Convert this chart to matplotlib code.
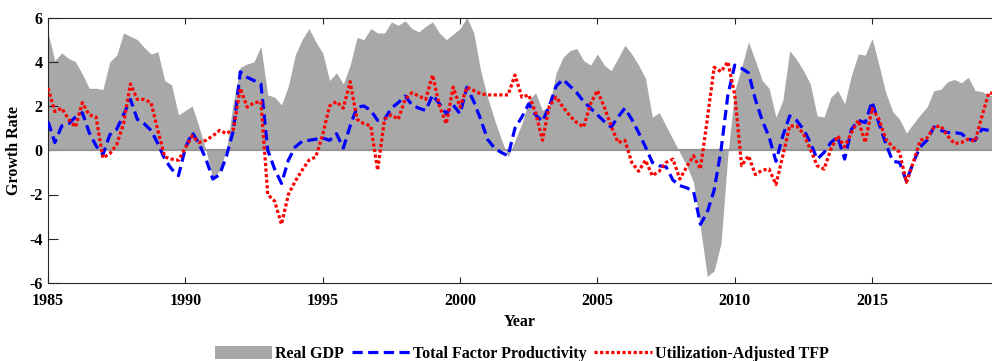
import numpy as np
import matplotlib
matplotlib.use('Agg')
import matplotlib.pyplot as plt
from matplotlib.patches import Patch
from matplotlib.lines import Line2D

# Quarterly growth rates, 1985Q1 onwards
start_year = 1985
real_gdp = [
    5.3, 4.05, 4.4, 4.15, 4.0, 3.45, 2.8, 2.8, 2.75, 4.0,
    4.3, 5.3, 5.15, 5.0, 4.65, 4.35, 4.45, 3.15, 2.95, 1.6,
    1.8, 2.0, 1.05, 0.0, -1.3, -0.9, 0.05, 2.2, 3.75, 3.9,
    4.0, 4.7, 2.5, 2.4, 2.05, 2.9, 4.3, 5.0, 5.5, 4.9,
    4.4, 3.15, 3.5, 3.0, 3.85, 5.1, 5.0, 5.5, 5.3, 5.3,
    5.8, 5.65, 5.85, 5.5, 5.35, 5.6, 5.8, 5.3, 5.0, 5.25,
    5.5, 6.0, 5.3, 3.6, 2.4, 1.4, 0.5, -0.3, 0.45, 1.2,
    2.25, 2.6, 1.8, 2.0, 3.5, 4.2, 4.5, 4.6, 4.05, 3.85,
    4.35, 3.85, 3.6, 4.15, 4.75, 4.35, 3.85, 3.25, 1.5, 1.7,
    1.1, 0.5, -0.1, -0.7, -1.45, -3.5, -5.7, -5.45, -4.2, -0.2,
    2.7, 3.75, 4.9, 4.05, 3.15, 2.8, 1.5, 2.25, 4.5, 4.1,
    3.6, 3.0, 1.55, 1.5, 2.4, 2.7, 2.1, 3.4, 4.35, 4.3,
    5.05, 3.85, 2.6, 1.75, 1.4, 0.78, 1.2, 1.6, 1.95, 2.7,
    2.75, 3.1, 3.2, 3.05, 3.3, 2.7, 2.65, 2.5, 2.45,
]
tfp = [
    1.3, 0.35, 1.1, 1.2, 1.5, 1.7, 0.8, 0.2, -0.2, 0.7,
    0.95, 1.6, 2.3, 1.4, 1.2, 0.9, 0.3, -0.4, -0.85, -1.15,
    0.1, 0.8, 0.3, -0.4, -1.3, -1.1, -0.25, 0.9, 3.55, 3.3,
    3.15, 3.0, 0.0, -0.85, -1.5, -0.45, 0.15, 0.4, 0.45, 0.5,
    0.55, 0.45, 0.75, 0.1, 1.1, 1.95, 2.0, 1.8, 1.35, 1.4,
    1.9, 2.15, 2.45, 2.05, 1.9, 1.8, 2.5, 2.1, 1.65, 2.05,
    1.65, 2.85, 2.2, 1.4, 0.5, 0.1, -0.1, -0.25, 1.0, 1.5,
    2.1, 1.6, 1.3, 2.0, 2.9, 3.2, 2.9, 2.6, 2.2, 1.9,
    1.6, 1.3, 1.05, 1.5, 1.9, 1.4, 0.8, 0.15, -0.55, -0.7,
    -0.75, -1.35, -1.6, -1.7, -1.85, -3.35, -2.8, -1.8, 0.0, 2.5,
    3.85, 3.7, 3.5, 2.3, 1.35, 0.6, -0.5, 0.65, 1.55, 1.35,
    0.95, 0.35, -0.4, -0.1, 0.35, 0.6, -0.4, 0.95, 1.35, 1.25,
    2.2, 1.2, 0.3, -0.5, -0.55, -1.4, -0.55, 0.15, 0.45, 1.05,
    0.9, 0.8, 0.8, 0.75, 0.5, 0.45, 0.95, 0.9, 0.8,
]
util_tfp = [
    2.8, 1.75, 1.9, 1.4, 1.05, 2.15, 1.6, 1.5, -0.35, -0.15,
    0.25, 1.2, 3.0, 2.3, 2.3, 2.15, 0.9, -0.3, -0.4, -0.45,
    0.1, 0.65, 0.35, 0.45, 0.65, 0.9, 0.75, 0.95, 2.8, 1.95,
    2.15, 2.2, -2.0, -2.3, -3.35, -2.0, -1.4, -0.9, -0.45, -0.3,
    0.7, 2.0, 2.2, 1.9, 3.1, 1.4, 1.2, 1.1, -0.9, 1.4,
    1.6, 1.4, 2.3, 2.6, 2.45, 2.3, 3.4, 2.0, 1.2, 2.85,
    1.95, 2.85, 2.7, 2.55, 2.5, 2.5, 2.5, 2.5, 3.4, 2.4,
    2.5, 1.7, 0.45, 2.0, 2.4, 1.95, 1.55, 1.25, 1.05, 2.1,
    2.7, 1.95, 1.1, 0.35, 0.45, -0.55, -0.95, -0.45, -1.15, -0.95,
    -0.55, -0.4, -1.3, -0.75, -0.25, -0.85, 1.4, 3.75, 3.55, 4.0,
    2.5, -0.7, -0.25, -1.1, -0.9, -0.85, -1.55, -0.25, 1.1, 1.1,
    0.75, 0.05, -0.7, -0.85, 0.05, 0.65, 0.15, 0.8, 1.35, 0.35,
    1.9, 1.4, 0.5, 0.15, -0.1, -1.45, -0.55, 0.45, 0.55, 1.05,
    1.1, 0.65, 0.3, 0.35, 0.5, 0.4, 1.55, 2.6, 2.55,
]
x_ticks = [1985, 1990, 1995, 2000, 2005, 2010, 2015]
y_ticks = [-6, -4, -2, 0, 2, 4, 6]
legend_labels = ['Real GDP', 'Total Factor Productivity', 'Utilization-Adjusted TFP']

GDP_COLOR = '#a8a8a8'
TFP_COLOR = '#0000ff'
UTIL_COLOR = '#ff0000'
AXIS_COLOR = '#262626'

plt.rcParams['font.family'] = ['Liberation Serif', 'DejaVu Serif']
plt.rcParams['font.weight'] = 'bold'
plt.rcParams['axes.unicode_minus'] = False

quarters = start_year + 0.25 * np.arange(len(real_gdp))

fig = plt.figure(figsize=(9.92, 3.61), dpi=100)
ax = fig.add_axes([48 / 992, 1 - 283 / 361, 1 - 48 / 992, (283 - 17.5) / 361])

# Shaded GDP area, zero line, then the two productivity series
ax.fill_between(quarters, 0, real_gdp, color=GDP_COLOR, linewidth=0, zorder=1)
ax.axhline(0, color='#969696', linewidth=1.6, zorder=2)
ax.plot(quarters, tfp, color=TFP_COLOR, linewidth=2.3, dashes=(3.2, 1.7),
        dash_capstyle='butt', zorder=3)
ax.plot(quarters, util_tfp, color=UTIL_COLOR, linewidth=2.3, dashes=(1.0, 0.75),
        dash_capstyle='butt', zorder=4)

ax.set_xlim(1985, 1985 + (992 - 48) / 27.47)
ax.set_ylim(-6, 6)
ax.set_xticks(x_ticks)
ax.set_yticks(y_ticks)
ax.set_xticklabels([str(t) for t in x_ticks], fontsize=11.5, fontweight='bold')
ax.set_yticklabels([str(t) for t in y_ticks], fontsize=11.5, fontweight='bold')
ax.tick_params(axis='x', direction='in', length=4, width=0.8, top=True, pad=7.5,
               color=AXIS_COLOR)
ax.tick_params(axis='y', direction='in', length=7, width=0.8, pad=4,
               color=AXIS_COLOR)
for side in ['left', 'bottom', 'top']:
    ax.spines[side].set_color(AXIS_COLOR)
    ax.spines[side].set_linewidth(0.8)
ax.spines['right'].set_visible(False)

ax.set_xlabel('Year', fontsize=11.5, fontweight='bold', labelpad=3)
ax.set_ylabel('Growth Rate', fontsize=11.5, fontweight='bold', labelpad=5)

handles = [
    Patch(facecolor=GDP_COLOR, edgecolor='none'),
    Line2D([], [], color=TFP_COLOR, linewidth=2.3, dashes=(3.2, 1.7)),
    Line2D([], [], color=UTIL_COLOR, linewidth=2.3, dashes=(1.0, 0.75)),
]
fig.legend(handles, legend_labels, loc='center', bbox_to_anchor=(0.526, 0.02),
           ncol=3, frameon=False, fontsize=11.5, handlelength=3.6,
           handleheight=0.85, handletextpad=0.2, columnspacing=0.5, borderpad=0)

plt.savefig('out.png', dpi=100)
